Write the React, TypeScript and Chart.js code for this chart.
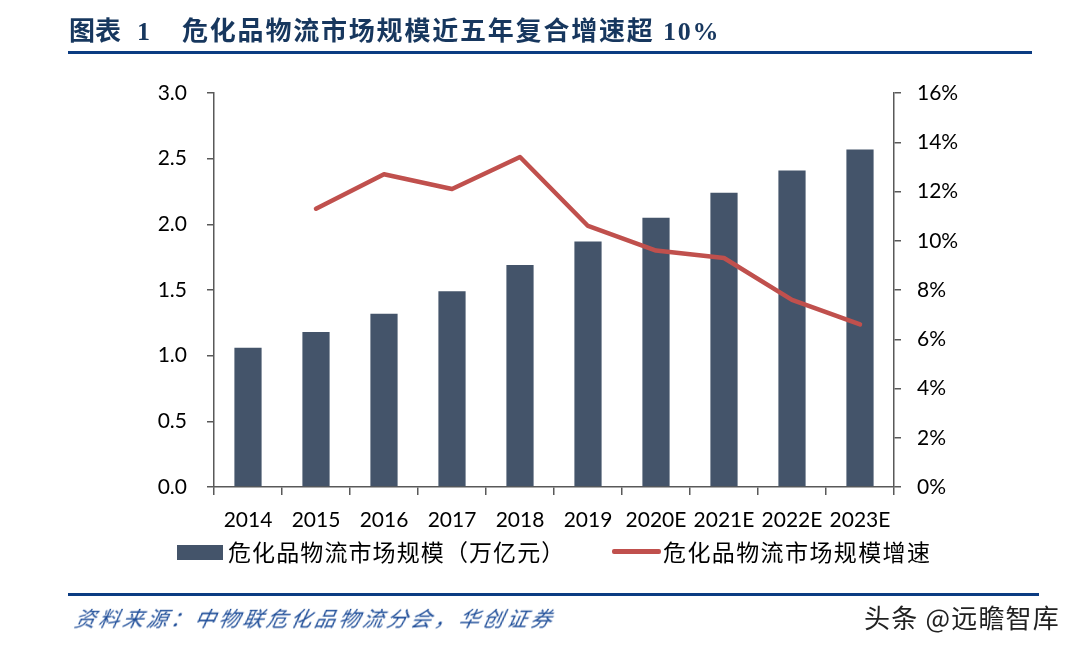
import React, { useEffect, useRef } from "react";
import { Chart, registerables } from "chart.js";

Chart.register(...registerables);

const categories = ["2014", "2015", "2016", "2017", "2018", "2019", "2020E", "2021E", "2022E", "2023E"];
const marketSize = [1.06, 1.18, 1.32, 1.49, 1.69, 1.87, 2.05, 2.24, 2.41, 2.57];
const growthRate = [null, 11.3, 12.7, 12.1, 13.4, 10.6, 9.6, 9.3, 7.6, 6.6];
const barLabel = "危化品物流市场规模（万亿元）";
const lineLabel = "危化品物流市场规模增速";
const titleLead = "图表";
const titleNumber = "1";
const titleText = "危化品物流市场规模近五年复合增速超 10%";
const sourceText = "资料来源：中物联危化品物流分会，华创证券";
const watermark = "头条 @远瞻智库";

const BAR_COLOR = "#44546A";
const LINE_COLOR = "#C0504D";
const AXIS_COLOR = "#595959";
const TICK_FONT = { family: "Lato, 'Noto Sans', sans-serif", size: 21 };

export default function App() {
  const ref = useRef<HTMLCanvasElement | null>(null);

  useEffect(() => {
    document.body.style.margin = "0";
    const ctx = ref.current;
    if (!ctx) return;
    const chart = new Chart(ctx, {
      data: {
        labels: categories,
        datasets: [
          {
            type: "line",
            label: lineLabel,
            data: growthRate as any,
            yAxisID: "y1",
            borderColor: LINE_COLOR,
            backgroundColor: LINE_COLOR,
            borderWidth: 4.5,
            pointRadius: 0,
            borderJoinStyle: "round",
            borderCapStyle: "round",
            tension: 0,
            order: 0,
          },
          {
            type: "bar",
            label: barLabel,
            data: marketSize,
            yAxisID: "y",
            backgroundColor: BAR_COLOR,
            barPercentage: 0.4,
            categoryPercentage: 1,
            order: 1,
          },
        ],
      },
      options: {
        responsive: false,
        animation: false,
        layout: { padding: { top: 93, left: 0, right: 0, bottom: 0 } },
        plugins: { legend: { display: false }, tooltip: { enabled: false } },
        scales: {
          x: {
            offset: true,
            grid: { offset: true, drawOnChartArea: false, drawTicks: true, tickLength: 8, color: AXIS_COLOR, lineWidth: 1.5 },
            border: { display: true, color: AXIS_COLOR, width: 1.5 },
            ticks: { color: "#000", font: TICK_FONT, padding: 13, maxRotation: 0, autoSkip: false },
            afterFit: (s: any) => { s.height = 160; },
          },
          y: {
            position: "left",
            min: 0,
            max: 3,
            ticks: { stepSize: 0.5, color: "#000", font: TICK_FONT, padding: 20, callback: (v: any) => Number(v).toFixed(1) },
            grid: { drawOnChartArea: false, drawTicks: true, tickLength: 7, color: AXIS_COLOR, lineWidth: 1.5 },
            border: { display: true, color: AXIS_COLOR, width: 1.5 },
            afterFit: (s: any) => { s.width = 214; },
          },
          y1: {
            position: "right",
            min: 0,
            max: 16,
            ticks: { stepSize: 2, color: "#000", font: TICK_FONT, padding: 16, callback: (v: any) => `${v}%` },
            grid: { drawOnChartArea: false, drawTicks: true, tickLength: 7, color: AXIS_COLOR, lineWidth: 1.5 },
            border: { display: true, color: AXIS_COLOR, width: 1.5 },
            afterFit: (s: any) => { s.width = 187; },
          },
        },
      },
    } as any);
    return () => chart.destroy();
  }, []);

  const cjk = "'Noto Sans CJK SC', 'Noto Sans', sans-serif";
  const serif = "'Liberation Serif', 'DejaVu Serif', 'Noto Sans CJK SC', serif";
  const titleStyle: React.CSSProperties = { position: "absolute", top: 13, fontFamily: serif, fontWeight: 700, fontSize: 26, color: "#17375E", whiteSpace: "nowrap", lineHeight: "38px" };

  return (
    <div style={{ position: "fixed", left: 0, top: 0, width: 1081, height: 647, background: "#fff", overflow: "hidden" }}>
      <canvas ref={ref} width={1081} height={647} style={{ position: "absolute", left: 0, top: 0 }} />
      <div style={{ ...titleStyle, left: 69 }}>{titleLead}</div>
      <div style={{ ...titleStyle, left: 137 }}>{titleNumber}</div>
      <div style={{ ...titleStyle, left: 182, letterSpacing: 1.8 }}>{titleText}</div>
      <div style={{ position: "absolute", left: 68, top: 51, width: 964, height: 3, background: "#0B3C82" }} />
      <div style={{ position: "absolute", left: 177, top: 545, width: 46, height: 15, background: BAR_COLOR }} />
      <div style={{ position: "absolute", left: 228, top: 535, fontFamily: cjk, fontSize: 23, color: "#000", whiteSpace: "nowrap", lineHeight: "32px", letterSpacing: 1.1 }}>
        {barLabel}
      </div>
      <div style={{ position: "absolute", left: 612, top: 549, width: 49, height: 5, background: LINE_COLOR, borderRadius: 2 }} />
      <div style={{ position: "absolute", left: 663, top: 535, fontFamily: cjk, fontSize: 23, color: "#000", whiteSpace: "nowrap", lineHeight: "32px", letterSpacing: 1.4 }}>
        {lineLabel}
      </div>
      <div style={{ position: "absolute", left: 68, top: 593, width: 971, height: 3, background: "#0B3C82" }} />
      <div style={{ position: "absolute", left: 72, top: 601, fontFamily: cjk, fontStyle: "italic", fontSize: 21, color: "#1F4E99", whiteSpace: "nowrap", lineHeight: "32px", letterSpacing: 3, transform: "skewX(-12deg)", transformOrigin: "left bottom" }}>
        {sourceText}
      </div>
      <div style={{ position: "absolute", left: 864, top: 599, fontFamily: cjk, fontSize: 26, color: "#222", whiteSpace: "nowrap", lineHeight: "36px", letterSpacing: 1.2 }}>
        {watermark}
      </div>
    </div>
  );
}
